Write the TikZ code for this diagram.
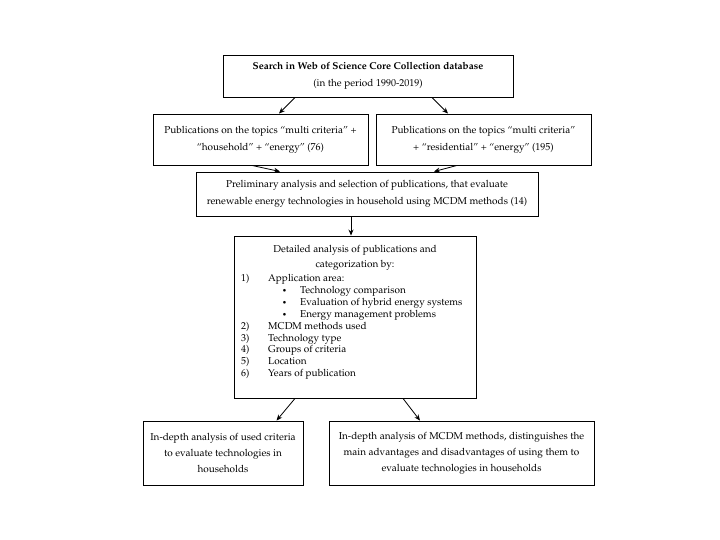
\documentclass[tikz,border=0pt]{standalone}
\usepackage[T1]{fontenc}
\usepackage{mathpazo}
\usetikzlibrary{arrows.meta}
\begin{document}
\begin{tikzpicture}[x=1pt,y=1pt,
  box/.style={draw, line width=0.9pt, inner sep=0pt, align=center,
    font=\fontsize{10}{16.8}\selectfont},
  arr/.style={line width=0.8pt, -{Stealth[length=6pt,width=5pt]}},
  txt/.style={inner sep=0pt, anchor=base west, font=\fontsize{10}{12}\selectfont},
  bul/.style={inner sep=0pt, anchor=base west, font=\fontsize{8}{10}\selectfont}]
\useasboundingbox (0,0) rectangle (720,-540);
\node[box, minimum width=290, minimum height=42] (top) at (368,-76)
  {\textbf{Search in Web of Science Core Collection database}\\(in the period 1990-2019)};
\node[box, minimum width=215, minimum height=51] (left) at (260.5,-139.5)
  {Publications on the topics ``multi criteria'' +\\``household'' + ``energy'' (76)};
\node[box, minimum width=215, minimum height=51] (right) at (483.5,-139.5)
  {Publications on the topics ``multi criteria''\\+ ``residential'' + ``energy'' (195)};
\node[box, minimum width=342, minimum height=44] (mid) at (367,-194)
  {Preliminary analysis and selection of publications, that evaluate\\renewable energy technologies in household using MCDM methods (14)};
\node[box, minimum width=242, minimum height=162] (detail) at (355,-317) {};
\node[box, minimum width=160, minimum height=64, font=\fontsize{10}{16}\selectfont] (bl) at (223,-453)
  {In-depth analysis of used criteria\\to evaluate technologies in\\households};
\node[box, minimum width=265, minimum height=64, font=\fontsize{10}{16}\selectfont] (br) at (461.5,-453)
  {In-depth analysis of MCDM methods, distinguishes the\\main advantages and disadvantages of using them to\\evaluate technologies in households};
% detail text
\node[txt, anchor=base] (t1) at (355,-252) {Detailed analysis of publications and};
\node[txt, anchor=base] (t2) at (355,-267) {categorization by:};
\node[txt] (n1) at (241,-281) {1)};
\node[txt] (i1) at (268,-281) {Application area:};
\node[bul] (b1) at (282,-293) {\textbullet};
\node[txt] (s1) at (300,-293) {Technology comparison};
\node[bul] (b2) at (282,-305) {\textbullet};
\node[txt] (s2) at (300,-305) {Evaluation of hybrid energy systems};
\node[bul] (b3) at (282,-317) {\textbullet};
\node[txt] (s3) at (300,-317) {Energy management problems};
\node[txt] (n2) at (241,-329) {2)};
\node[txt] (i2) at (268,-329) {MCDM methods used};
\node[txt] (n3) at (241,-341) {3)};
\node[txt] (i3) at (268,-341) {Technology type};
\node[txt] (n4) at (241,-352.5) {4)};
\node[txt] (i4) at (268,-352.5) {Groups of criteria};
\node[txt] (n5) at (241,-364) {5)};
\node[txt] (i5) at (268,-364) {Location};
\node[txt] (n6) at (241,-376) {6)};
\node[txt] (i6) at (268,-376) {Years of publication};
% arrows
\draw[arr] ([xshift=-73]top.south) -- ([xshift=18.5]left.north);
\draw[arr] ([xshift=64]top.south) -- ([xshift=-35.5]right.north);
\draw[arr] ([xshift=-8.5]left.south) -- ([xshift=-87]mid.north);
\draw[arr] ([xshift=-26.5]right.south) -- ([xshift=67]mid.north);
\draw[arr] ([xshift=-16]mid.south) -- ([xshift=-16]mid.south |- detail.north);
\draw[arr] ([xshift=-60]detail.south) -- ([xshift=53.5]bl.north);
\draw[arr] ([xshift=48]detail.south) -- ([xshift=-41.5]br.north);
\end{tikzpicture}
\end{document}
